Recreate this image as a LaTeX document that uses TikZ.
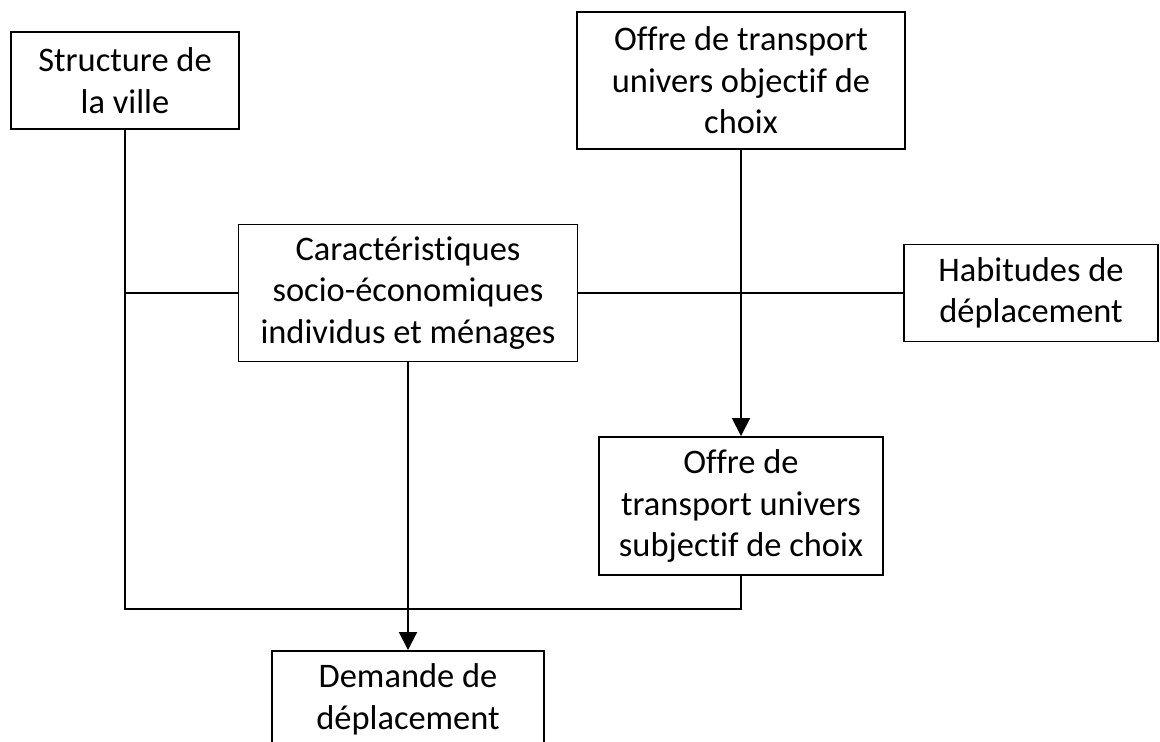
\documentclass[tikz,border=0pt]{standalone}
\usepackage{fontspec}
\setmainfont{Carlito}[Ligatures={NoCommon}]
\usetikzlibrary{arrows.meta, positioning}

\tikzset{
  box/.style = {draw, rectangle, line width=1.1pt, inner sep=0pt, align=center,
                font=\fontsize{19.6}{23.6}\selectfont}
}

\begin{document}
\begin{tikzpicture}[x=0.2mm, y=-0.2mm, line width=1.1pt]
  \useasboundingbox (0,0) rectangle (1160,742);

  \node (ville) [box, minimum width=228*0.2mm, minimum height=97*0.2mm] at (125,80.5) {Structure de\\la ville};
  \node (carac) [box, minimum width=339*0.2mm, minimum height=137*0.2mm] at (408,293) {Caractéristiques\\socio-économiques\\individus et ménages};
  \node (objectif) [box, minimum width=328*0.2mm, minimum height=137*0.2mm] at (741,80.5) {Offre de transport\\univers objectif de\\choix};
  \node (habitudes) [box, minimum width=254*0.2mm, minimum height=97*0.2mm] at (1031,293) {Habitudes de\\déplacement};
  \node (subjectif) [box, minimum width=284*0.2mm, minimum height=138*0.2mm] at (741,506) {Offre de\\transport univers\\subjectif de choix};
  \node (demande) [box, minimum width=272*0.2mm, minimum height=97*0.2mm] at (408,699.5) {Demande de\\déplacement};

  \coordinate (coin) at (125,609);

  \draw (ville.south) -- (coin) -| (subjectif.south);
  \draw (carac.west) -- (carac.west -| coin);
  \draw (carac.east) -- (habitudes.west);

  \path [-{Triangle[length=3.6mm, width=3.6mm]}]
    (carac.south) edge (demande.north)
    (objectif.south) edge (subjectif.north);
\end{tikzpicture}
\end{document}
